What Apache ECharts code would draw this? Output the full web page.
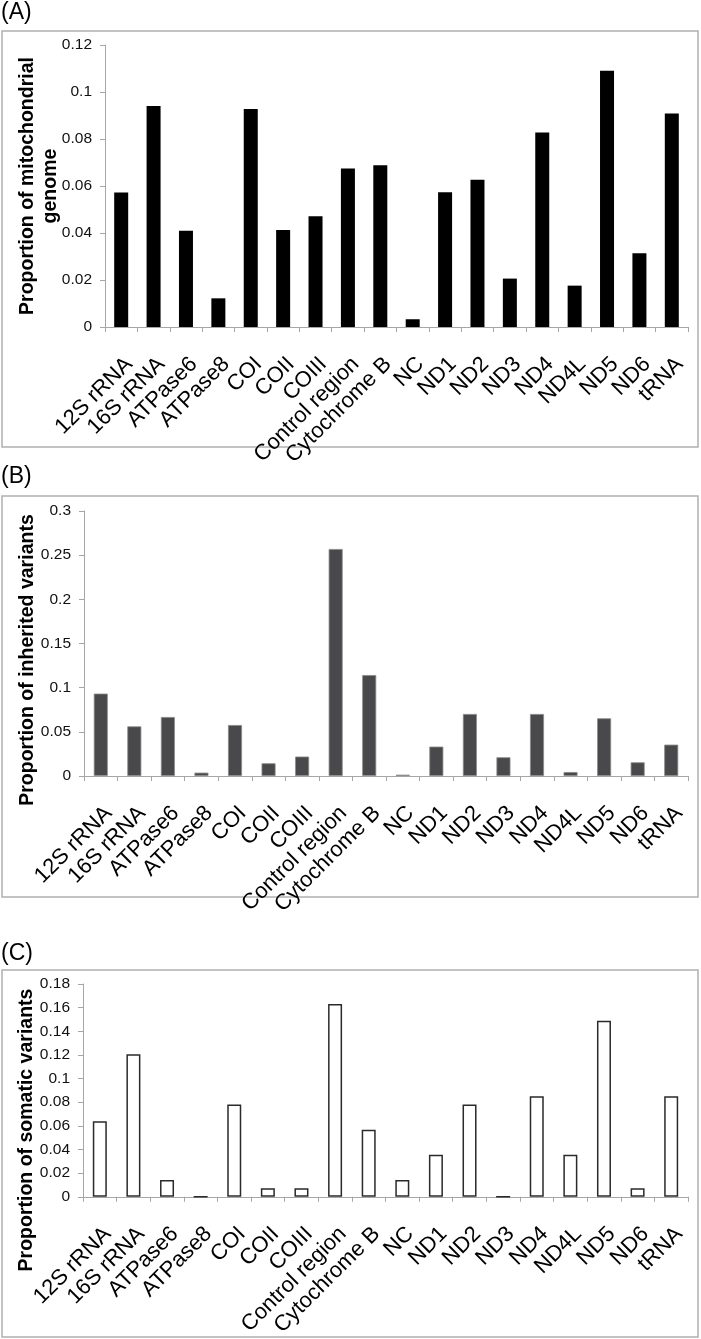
<!DOCTYPE html>
<html>
<head>
<meta charset="utf-8">
<script src="https://cdn.jsdelivr.net/npm/echarts@6/dist/echarts.min.js"></script>
<style>
html,body{margin:0;padding:0;background:#fff;}
#chart{width:701px;height:1339px;}
</style>
</head>
<body>
<div id="chart"></div>
<script>
const categories = ['12S rRNA','16S rRNA','ATPase6','ATPase8','COI','COII','COIII','Control region','Cytochrome B','NC','ND1','ND2','ND3','ND4','ND4L','ND5','ND6','tRNA'];
const genomeProportion = [0.0572, 0.094, 0.041, 0.0122, 0.0928, 0.0413, 0.0471, 0.0675, 0.0688, 0.0033, 0.0573, 0.0627, 0.0206, 0.0828, 0.0176, 0.109, 0.0314, 0.0908];
const inheritedProportion = [0.0933, 0.0562, 0.0668, 0.0038, 0.0577, 0.0144, 0.022, 0.257, 0.1143, 0.0015, 0.0333, 0.0702, 0.0212, 0.0702, 0.0045, 0.0653, 0.0155, 0.0355];
const somaticProportion = [0.0638, 0.1206, 0.0142, 0, 0.078, 0.0071, 0.0071, 0.1631, 0.0567, 0.0142, 0.0355, 0.078, 0, 0.0851, 0.0355, 0.1489, 0.0071, 0.0851];
const panelLabels = ['(A)', '(B)', '(C)'];
const yTitles = ['Proportion of mitochondrial\ngenome', 'Proportion of inherited variants', 'Proportion of somatic variants'];

const FONT = 'Liberation Sans, Arial, sans-serif';
const AXIS_COLOR = '#a6a6a6';

function xAxisFor(i) {
  return {
    type: 'category', gridIndex: i, data: categories,
    axisLine: { show: true, lineStyle: { color: AXIS_COLOR, width: 1 } },
    axisTick: { show: true, length: 5, lineStyle: { color: AXIS_COLOR } },
    axisLabel: { interval: 0, rotate: 45, fontSize: 22, color: '#000', margin: 26, verticalAlign: 'top', fontFamily: FONT },
    splitLine: { show: false }
  };
}
function yAxisFor(i, max, interval) {
  return {
    type: 'value', gridIndex: i, min: 0, max: max, interval: interval,
    axisLine: { show: true, lineStyle: { color: AXIS_COLOR, width: 1 } },
    axisTick: { show: true, length: 5, lineStyle: { color: AXIS_COLOR } },
    axisLabel: { fontSize: 15.5, color: '#111', margin: 13, fontFamily: FONT },
    splitLine: { show: false }
  };
}
function titleText(i, x, y) {
  return { type: 'text', x: x, y: y, rotation: Math.PI / 2, silent: true,
    style: { text: yTitles[i], fontSize: 19.5, fontWeight: 'bold', fill: '#000', fontFamily: FONT,
      lineHeight: 23, align: 'center', verticalAlign: 'middle' } };
}
function panelText(i, y) {
  return { type: 'text', x: 1, y: y, silent: true,
    style: { text: panelLabels[i], fontSize: 23, fill: '#000', fontFamily: FONT, verticalAlign: 'top' } };
}
function box(y, h) {
  return { type: 'rect', silent: true, shape: { x: 2, y: y, width: 696, height: h },
    style: { fill: 'none', stroke: '#b0b0b0', lineWidth: 1.5 } };
}

const chart = echarts.init(document.getElementById('chart'), null, { renderer: 'canvas' });
chart.setOption({
  animation: false,
  backgroundColor: '#ffffff',
  textStyle: { fontFamily: FONT },
  grid: [
    { left: 105, top: 45, width: 583, height: 282 },
    { left: 84, top: 511, width: 604, height: 265 },
    { left: 83, top: 984, width: 605, height: 232 }
  ],
  xAxis: [xAxisFor(0), xAxisFor(1), xAxisFor(2)],
  yAxis: [
    yAxisFor(0, 0.12, 0.02),
    yAxisFor(1, 0.3, 0.05),
    yAxisFor(2, 0.18, 0.02)
  ],
  series: [
    { type: 'bar', xAxisIndex: 0, yAxisIndex: 0, data: genomeProportion, barWidth: 14,
      itemStyle: { color: '#000000' } },
    { type: 'bar', xAxisIndex: 1, yAxisIndex: 1, data: inheritedProportion, barWidth: 14,
      itemStyle: { color: '#49494b', borderColor: '#8a8a8a', borderWidth: 0.8 } },
    { type: 'bar', xAxisIndex: 2, yAxisIndex: 2, data: somaticProportion, barWidth: 14,
      itemStyle: { color: '#ffffff', borderColor: '#2a2a2a', borderWidth: 1.5 } }
  ],
  graphic: [
    box(31, 416), box(496, 401), box(970, 367),
    panelText(0, 1), panelText(1, 465), panelText(2, 942),
    titleText(0, 39, 186), titleText(1, 28, 660), titleText(2, 27, 1130)
  ]
});
</script>
</body>
</html>
